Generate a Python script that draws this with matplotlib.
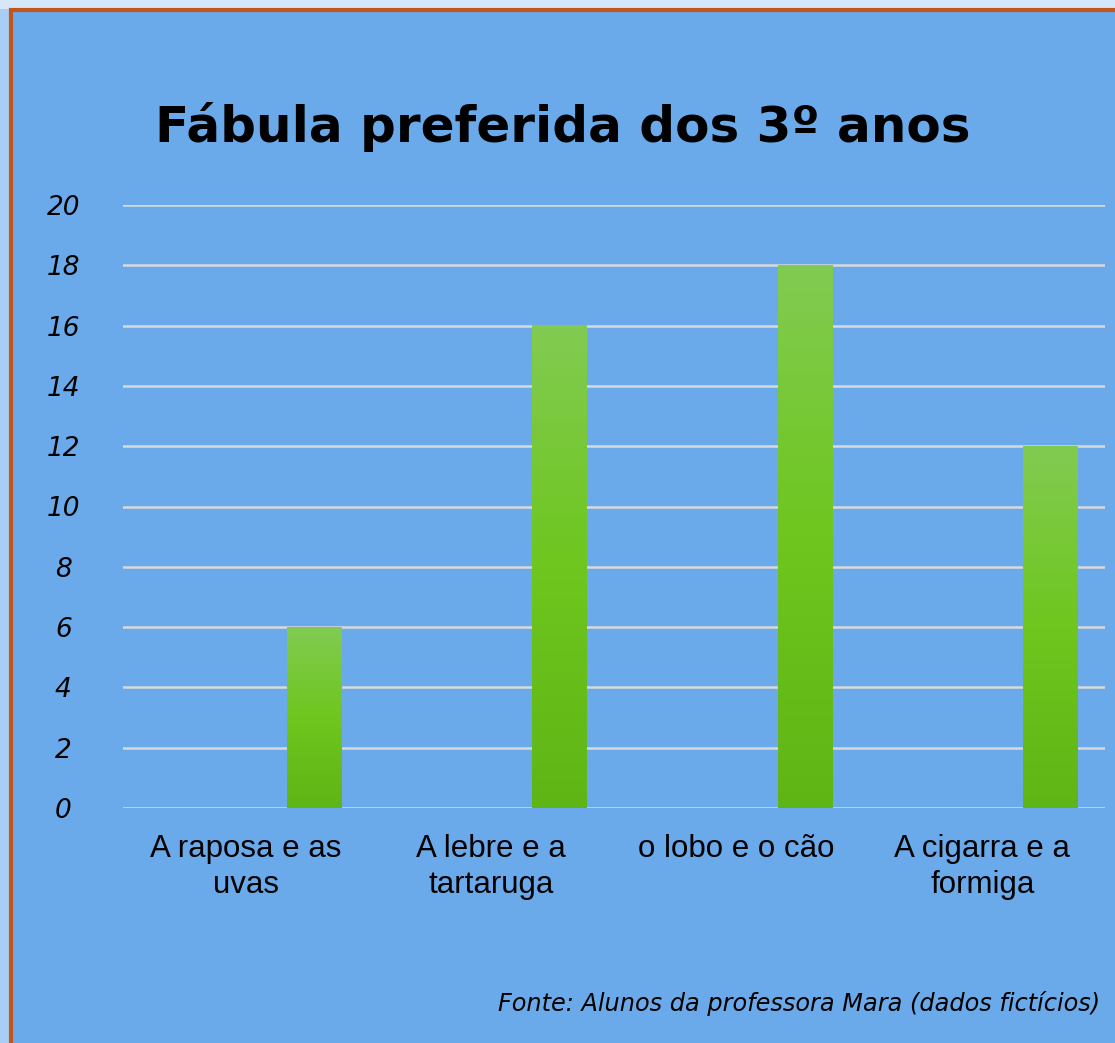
import matplotlib
matplotlib.use("Agg")
import matplotlib.pyplot as plt
import numpy as np
from matplotlib.patches import Rectangle
from matplotlib.font_manager import FontProperties

categories = ["A raposa e as\nuvas", "A lebre e a\ntartaruga", "o lobo e o cão", "A cigarra e a\nformiga"]
values = [6, 16, 18, 12]
yticks = [0, 2, 4, 6, 8, 10, 12, 14, 16, 18, 20]
title = "Fábula preferida dos 3º anos"
source = "Fonte: Alunos da professora Mara (dados fictícios)"

W, H = 1115, 1043
fig = plt.figure(figsize=(W / 100, H / 100), dpi=100)
fig.patch.set_facecolor("#A9CEF5")

# top strip lighter
fig.patches.append(Rectangle((0, 1 - 9 / H), 1, 9 / H, transform=fig.transFigure,
                             facecolor="#D6E7FA", edgecolor="none", zorder=0))
# main panel with orange border
fig.patches.append(Rectangle((11 / W, -0.05), 1.1, 1 - 10 / H + 0.05, transform=fig.transFigure,
                             facecolor="#6AAAEA", edgecolor="#C0561A", linewidth=3, zorder=1))

left, right = 123 / W, 1105 / W
bottom, top = 1 - 808 / H, 1 - 205 / H
ax = fig.add_axes([left, bottom, right - left, top - bottom])
ax.set_facecolor("none")
ax.set_zorder(2)

ax.set_ylim(0, 20)
ax.set_yticks(yticks)
ax.yaxis.grid(True, color="#D9D9D9", linewidth=1.8)
ax.set_axisbelow(True)
for s in ax.spines.values():
    s.set_visible(False)
ax.tick_params(length=0)

# bars with vertical gradient
x = np.arange(len(categories))
offset, width = 0.277, 0.22
grad = np.linspace(0, 1, 256).reshape(-1, 1)
cmap = matplotlib.colors.LinearSegmentedColormap.from_list("g", ["#5FB515", "#6EC61E", "#82CB52"])
for xi, v in zip(x, values):
    x0, x1 = xi + offset - width / 2, xi + offset + width / 2
    ax.imshow(grad, extent=[x0, x1, 0, v], origin="lower", cmap=cmap, aspect="auto", zorder=3)
ax.set_aspect("auto")
ax.set_xlim(-0.5, len(categories) - 0.5)
ax.set_ylim(0, 20)

xfont = FontProperties(family="Liberation Sans", size=22.5, stretch="normal")
ax.set_xticks(x)
ax.set_xticklabels(categories, fontproperties=xfont, color="black", linespacing=1.25)
ax.tick_params(axis="x", pad=19)
ax.set_yticklabels([str(t) for t in yticks], fontsize=19, family="DejaVu Sans",
                   style="italic", color="black")
for lab in ax.get_yticklabels():
    lab.set_horizontalalignment("center")
ax.tick_params(axis="y", pad=43)

fig.text(563 / W, 1 - 127 / H, title, ha="center", va="center", fontsize=36,
         fontweight="bold", family="DejaVu Sans", color="black")
fig.text(1100 / W, 1 - 1003 / H, source, ha="right", va="center", fontsize=17.3,
         family="DejaVu Sans", style="italic", color="black")

fig.savefig("out.png", dpi=100, facecolor=fig.get_facecolor())
